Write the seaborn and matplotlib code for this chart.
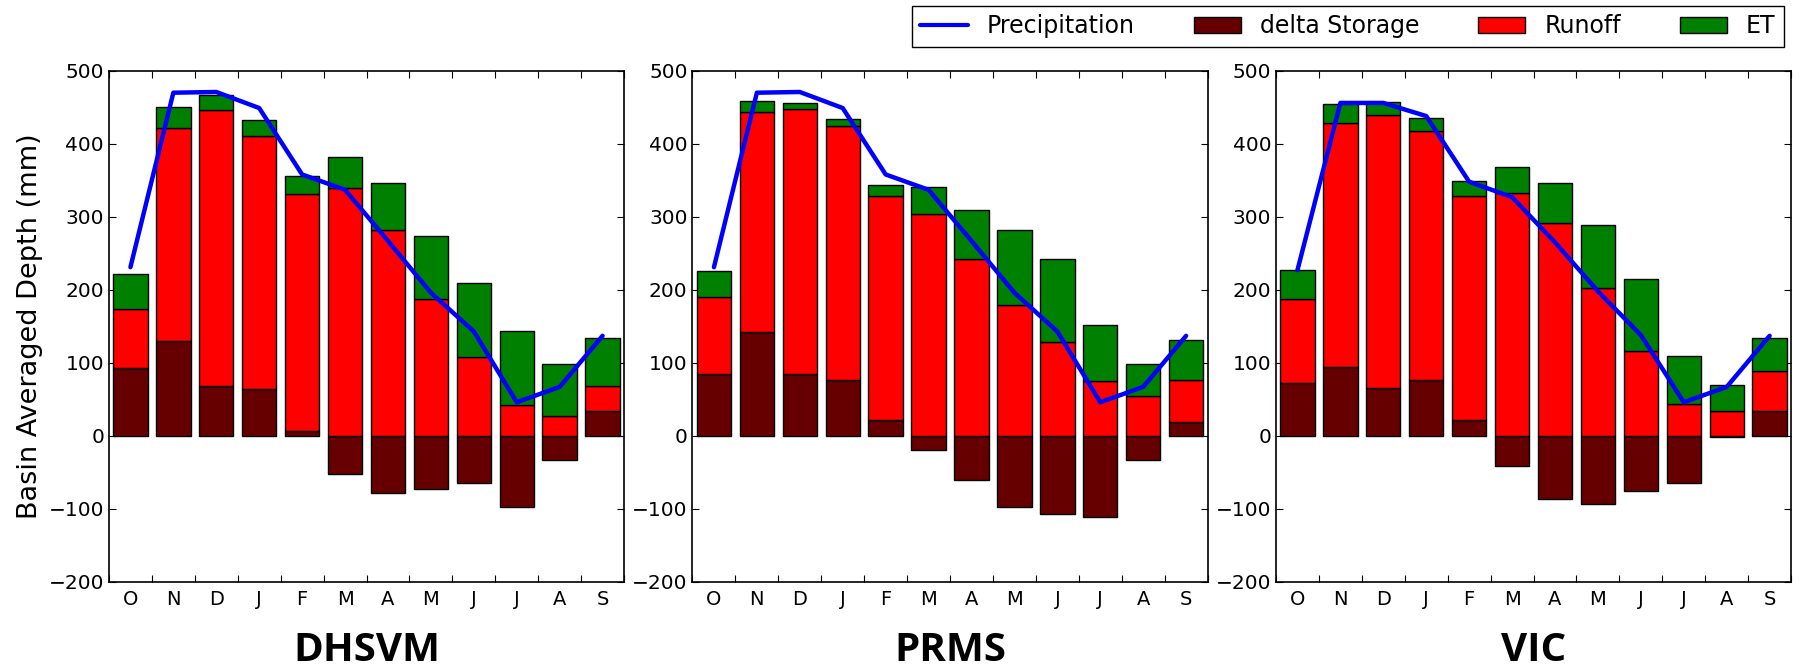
import numpy as np
import pandas as pd
import matplotlib
matplotlib.use("Agg")
import matplotlib.pyplot as plt
import seaborn as sns
from matplotlib.patches import Patch
from matplotlib.lines import Line2D

# === Data (mm) ===
months = ["O", "N", "D", "J", "F", "M", "A", "M", "J", "J", "A", "S"]
models = ["DHSVM", "PRMS", "VIC"]

precip_dhsvm = [231, 470, 471, 449, 358, 337, 267, 196, 143, 46, 67, 137]
storage_dhsvm = [93, 130, 68, 64, 6, -52, -78, -73, -64, -98, -33, 34]
runoff_dhsvm = [81, 291, 378, 347, 325, 340, 282, 187, 108, 42, 27, 34]
et_dhsvm = [47, 30, 21, 21, 25, 42, 64, 87, 102, 102, 72, 66]

precip_prms = [231, 470, 471, 449, 358, 337, 267, 196, 143, 46, 67, 137]
storage_prms = [84, 142, 85, 76, 21, -20, -60, -97, -107, -111, -33, 19]
runoff_prms = [106, 301, 363, 348, 307, 304, 242, 179, 129, 75, 54, 57]
et_prms = [36, 15, 8, 10, 15, 37, 68, 103, 113, 77, 44, 55]

precip_vic = [227, 456, 456, 438, 348, 327, 265, 198, 138, 46, 67, 137]
storage_vic = [73, 94, 65, 76, 21, -42, -87, -94, -75, -64, -2, 34]
runoff_vic = [114, 334, 374, 342, 307, 332, 292, 203, 116, 44, 34, 55]
et_vic = [40, 26, 18, 18, 21, 36, 55, 86, 99, 65, 35, 45]

data = {
    "DHSVM": (precip_dhsvm, storage_dhsvm, runoff_dhsvm, et_dhsvm),
    "PRMS": (precip_prms, storage_prms, runoff_prms, et_prms),
    "VIC": (precip_vic, storage_vic, runoff_vic, et_vic),
}

c_storage = "#660000"
c_runoff = "#ff0000"
c_et = "#008000"
c_precip = "#0000ff"

sns.set_style("ticks")
plt.rcParams.update({
    "xtick.direction": "in", "ytick.direction": "in",
    "xtick.top": True, "ytick.right": True,
    "xtick.major.size": 5, "ytick.major.size": 5,
    "axes.linewidth": 1.2,
    "text.color": "black", "axes.labelcolor": "black",
    "xtick.color": "black", "ytick.color": "black", "axes.edgecolor": "black",
})
plt.rcParams["font.family"] = ["DejaVu Sans"]

fig = plt.figure(figsize=(18.01, 6.68), dpi=100)
left, width, gap = 0.0605, 0.286, 0.038
bottom, height = 0.129, 0.765

for k, name in enumerate(models):
    ax = fig.add_axes([left + k * (width + gap), bottom, width, height])
    precip, storage, runoff, et = data[name]
    df = pd.DataFrame({"m": np.arange(12), "precip": precip, "storage": storage,
                       "runoff": runoff, "et": et})
    df["rbase"] = df["storage"].clip(lower=0)
    df["ebase"] = df["rbase"] + df["runoff"]

    bar_kw = dict(orient="x", saturation=1, width=0.8, edgecolor="black",
                  linewidth=1, ax=ax, errorbar=None)
    sns.barplot(data=df, x="m", y="storage", color=c_storage, **bar_kw)
    sns.barplot(data=df, x="m", y="runoff", bottom=df["rbase"], color=c_runoff, **bar_kw)
    sns.barplot(data=df, x="m", y="et", bottom=df["ebase"], color=c_et, **bar_kw)
    sns.lineplot(data=df, x="m", y="precip", color=c_precip, linewidth=3.2, ax=ax)

    ax.set_xlim(-0.5, 11.5)
    ax.set_ylim(-200, 500)
    ax.set_yticks(np.arange(-200, 501, 100))
    ax.set_xticks(np.arange(-0.5, 12, 1))
    ax.set_xticklabels([])
    ax.set_xticks(np.arange(12), minor=True)
    ax.set_xticklabels(months, minor=True)
    ax.tick_params(axis="x", which="minor", length=0, labelsize=14, pad=6)
    ax.tick_params(axis="y", labelsize=14.5)
    for s in ax.spines.values():
        s.set_visible(True)
    ax.set_ylabel("Basin Averaged Depth (mm)" if k == 0 else "", fontsize=19.5, labelpad=4)
    ax.set_xlabel(name, fontsize=29, fontweight="bold", family=["Open Sans", "DejaVu Sans"],
                  labelpad=16)

handles = [
    Line2D([], [], color=c_precip, linewidth=3),
    Patch(facecolor=c_storage, edgecolor="black"),
    Patch(facecolor=c_runoff, edgecolor="black"),
    Patch(facecolor=c_et, edgecolor="black"),
]
labels = ["Precipitation", "delta Storage", "Runoff", "ET"]
fig.legend(handles, labels, loc="upper right", bbox_to_anchor=(1784 / 1801, 1 - 6 / 668),
           ncol=4, fontsize=17, fancybox=False, edgecolor="black", framealpha=1,
           borderaxespad=0, columnspacing=2.5, handlelength=2.0, borderpad=0.35)

plt.savefig("out.png", dpi=100)
